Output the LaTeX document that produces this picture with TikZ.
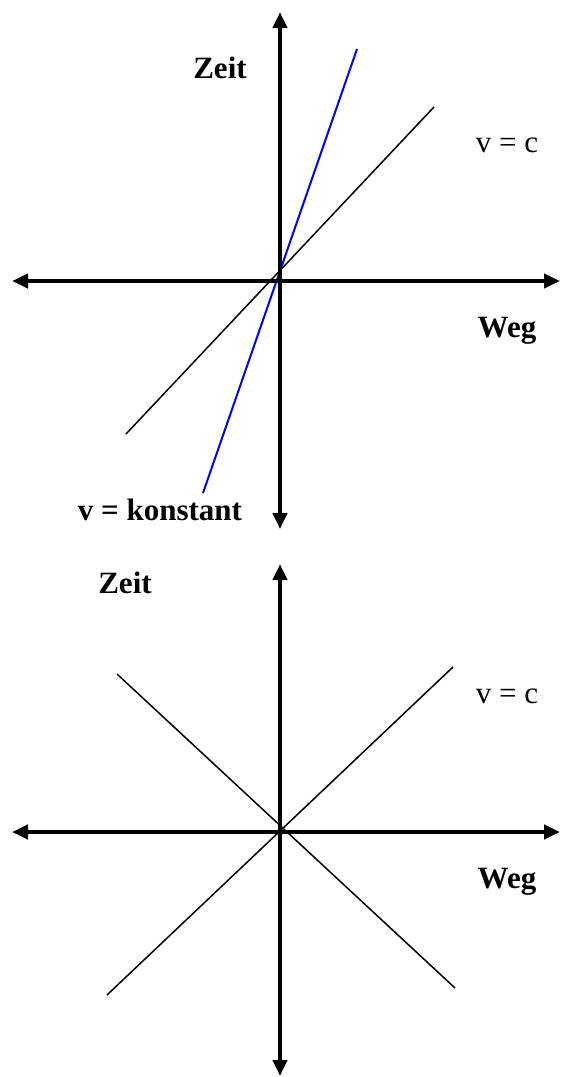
\documentclass[tikz,border=0pt]{standalone}
\usepackage{fontspec}
\setmainfont{Liberation Serif}
\usetikzlibrary{arrows.meta}
\definecolor{Ink}  {HTML}{000000}
\definecolor{Blue} {HTML}{0000FF}
\tikzset{
  axarr/.style={
    {Triangle[length=16pt,width=14pt]}-{Triangle[length=16pt,width=14pt]},
    line width=4.5pt, color=Ink,
  },
  wline/.style args={#1/#2}{
    line width=#2, color=#1,
  },
  lbl/.style={
    font=\fontsize{31}{37}\selectfont, text=Ink,
    anchor=base, inner sep=0pt,
  },
  blbl/.style={
    lbl, font=\fontsize{31}{37}\selectfont\bfseries,
  },
}
\begin{document}
\begin{tikzpicture}[x=1pt,y=-1pt]
    \useasboundingbox (0,0) rectangle (561,1077);
    % upper diagram
    \coordinate (tN) at (280,12);
    \coordinate (tS) at (280,529);
    \coordinate (tW) at (12,281);
    \coordinate (tE) at (560,281);
    \coordinate (cA) at (126,434);
    \coordinate (cB) at (434,107);
    \coordinate (kA) at (203,493);
    \coordinate (kB) at (357,49);
    \draw[wline=Ink/1.5pt]  (cA)--(cB);
    \draw[wline=Blue/2pt]   (kA)--(kB);
    \draw[axarr] (tS)--(tN);
    \draw[axarr] (tW)--(tE);
    \node[blbl] (zeit1) at (220,78)  {Zeit};
    \node[lbl]  (vc1)   at (507,152) {v = c};
    \node[blbl] (weg1)  at (507,337) {Weg};
    \node[blbl] (vk)    at (160,520) {v = konstant};
    % lower diagram
    \coordinate (bN) at (280,564);
    \coordinate (bS) at (280,1076);
    \coordinate (bW) at (12,832);
    \coordinate (bE) at (560,832);
    \coordinate (pA) at (107,995);
    \coordinate (pB) at (453,667);
    \coordinate (mA) at (117,674);
    \coordinate (mB) at (455,988);
    \draw[wline=Ink/1.5pt] (pA)--(pB);
    \draw[wline=Ink/1.5pt] (mA)--(mB);
    \draw[axarr] (bS)--(bN);
    \draw[axarr] (bW)--(bE);
    \node[blbl] (zeit2) at (125,593) {Zeit};
    \node[lbl]  (vc2)   at (507,703) {v = c};
    \node[blbl] (weg2)  at (507,888) {Weg};
\end{tikzpicture}
\end{document}
